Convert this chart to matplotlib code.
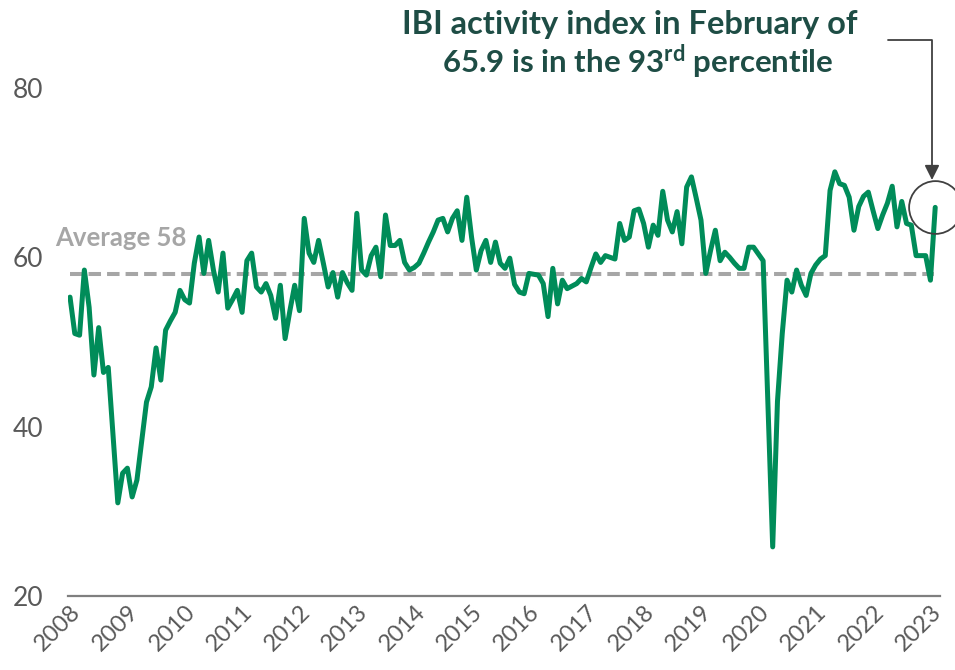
import matplotlib
matplotlib.use("Agg")
import matplotlib.pyplot as plt
import numpy as np

# ---- data ----
years = list(range(2008, 2024))
year_labels = [str(y) for y in years]
ibi = [
    55.3, 51.0, 50.8, 58.5, 54.1, 46.1, 51.7, 46.4, 47.0, 39.0, 31.0, 34.5,   # 2008
    35.1, 31.7, 33.7, 38.3, 42.9, 44.7, 49.3, 45.5, 51.4, 52.5, 53.5, 56.1,   # 2009
    55.0, 54.6, 59.3, 62.4, 58.1, 62.0, 58.5, 55.9, 60.5, 54.0, 55.0, 56.1,   # 2010
    53.5, 59.6, 60.5, 56.5, 55.9, 56.9, 55.5, 52.8, 56.7, 50.4, 53.7, 56.7,   # 2011
    53.7, 64.6, 60.5, 59.4, 62.0, 59.3, 56.5, 58.2, 55.3, 58.2, 57.0, 56.1,   # 2012
    65.2, 58.5, 57.9, 60.2, 61.2, 57.7, 65.0, 61.4, 61.4, 62.0, 59.4, 58.5,   # 2013
    58.8, 59.3, 60.5, 61.8, 63.0, 64.4, 64.6, 63.0, 64.6, 65.5, 62.0, 67.1,   # 2014
    62.4, 58.5, 60.8, 62.0, 59.4, 61.8, 59.3, 58.7, 59.9, 56.8, 55.9, 55.7,   # 2015
    58.1, 58.0, 57.9, 56.9, 53.0, 58.7, 54.5, 57.3, 56.3, 56.6, 56.9, 57.5,   # 2016
    57.1, 58.8, 60.4, 59.4, 60.2, 60.0, 59.8, 64.0, 62.0, 62.4, 65.5, 65.7,   # 2017
    64.0, 61.2, 63.8, 62.6, 67.8, 64.4, 63.0, 65.4, 61.6, 68.3, 69.5, 67.0,   # 2018
    64.4, 58.1, 60.8, 63.2, 59.6, 60.6, 60.0, 59.3, 58.7, 58.7, 61.2, 61.2,   # 2019
    60.4, 59.6, 42.8, 25.8, 43.0, 51.0, 57.3, 55.9, 58.5, 56.7, 55.5, 58.1,   # 2020
    59.1, 59.8, 60.2, 67.9, 70.1, 68.7, 68.5, 67.1, 63.2, 66.0, 67.2, 67.7,   # 2021
    65.5, 63.4, 65.0, 66.4, 68.4, 63.6, 66.6, 64.0, 63.8, 60.2, 60.2, 60.2,   # 2022
    57.3, 65.9,                                                             # 2023
]
average = 58
y_ticks = [20, 40, 60, 80]

# ---- style ----
plt.rcParams['font.family'] = ['Lato', 'DejaVu Sans']
plt.rcParams['mathtext.fontset'] = 'custom'
plt.rcParams['mathtext.rm'] = 'Lato'
plt.rcParams['mathtext.bf'] = 'Lato:bold'

GREEN = '#008C59'
GRAY_TXT = '#595959'
AVG_GRAY = '#A6A6A6'
TITLE_COL = '#1E4D45'

fig = plt.figure(figsize=(9.55, 6.7), dpi=100)
ax = fig.add_axes([68/955, 74/670, (940-68)/955, (582-74)/670])

x = np.arange(len(ibi))
ax.axhline(average, xmin=0.002, xmax=0.993, color=AVG_GRAY, lw=2.9,
           ls=(0, (3.1, 1.5)), zorder=1)
ax.plot(x, ibi, color=GREEN, lw=3.6, solid_joinstyle='round', solid_capstyle='round', zorder=3)

ax.set_xlim(-0.42, 182.0)
ax.set_ylim(20, 80)
ax.set_yticks(y_ticks)
ax.set_yticklabels([str(v) for v in y_ticks])
ax.set_xticks([12 * i for i in range(len(years))])
ax.set_xticklabels(year_labels, rotation=45, ha='right', va='top', rotation_mode='anchor')

for s in ['top', 'right', 'left']:
    ax.spines[s].set_visible(False)
ax.spines['bottom'].set_color('#7F7F7F')
ax.spines['bottom'].set_linewidth(1.6)
ax.tick_params(axis='y', length=0, pad=18, labelsize=19, labelcolor=GRAY_TXT)
ax.tick_params(axis='x', length=0, pad=4, labelsize=17, labelcolor=GRAY_TXT)

# average label
ax.text(-3.2, 61.3, f'Average {average}', color=AVG_GRAY, fontsize=18.5,
        fontweight='bold', ha='left', va='baseline')

# highlight circle on last point
ax.plot([x[-1]], [ibi[-1]], marker='o', ms=38, mfc='none', mec='#404040',
        mew=1.3, clip_on=False, zorder=4)

# title
fig.text(630/955, 1 - 34/670, 'IBI activity index in February of', color=TITLE_COL,
         fontsize=23.5, fontweight='bold', ha='center', va='baseline')
fig.text(638/955, 1 - 73/670, r'65.9 is in the 93$^{\mathbf{rd}}$ percentile', color=TITLE_COL,
         fontsize=22.5, fontweight='bold', ha='center', va='baseline')

# arrow
ax.annotate('', xy=(932, 670 - 180), xycoords='figure pixels',
            xytext=(888, 670 - 40), textcoords='figure pixels',
            arrowprops=dict(arrowstyle='-|>', connectionstyle='angle,angleA=0,angleB=90,rad=0',
                            color='#404040', lw=1.3, mutation_scale=22, shrinkA=0, shrinkB=0),
            annotation_clip=False)

fig.savefig('out.png', dpi=100)
